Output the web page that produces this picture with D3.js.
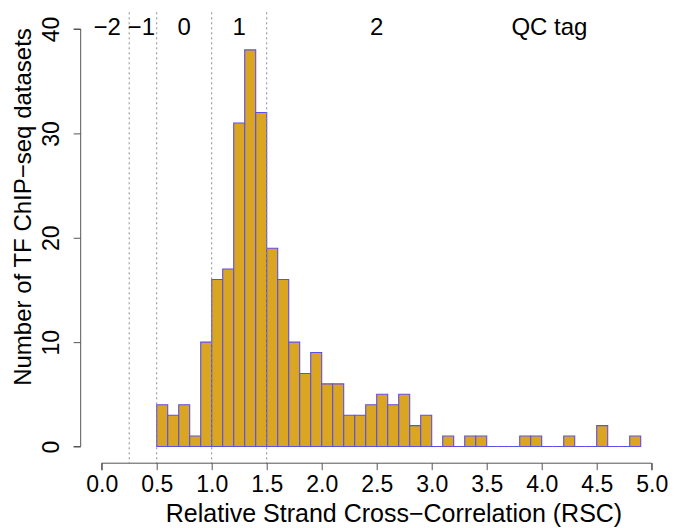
<!DOCTYPE html>
<html>
<head>
<meta charset="utf-8">
<script src="https://cdn.jsdelivr.net/npm/d3@7"></script>
<style>
  html, body { margin: 0; padding: 0; background: #fff; }
  text { font-family: "Liberation Sans", Arial, Helvetica, sans-serif; fill: #000; }
</style>
</head>
<body>
<div id="chart"></div>
<script>
// ---- Data -------------------------------------------------------------
const binStarts = [0.5, 0.6, 0.7, 0.8, 0.9, 1.0, 1.1, 1.2, 1.3, 1.4,
                   1.5, 1.6, 1.7, 1.8, 1.9, 2.0, 2.1, 2.2, 2.3, 2.4,
                   2.5, 2.6, 2.7, 2.8, 2.9, 3.0, 3.1, 3.2, 3.3, 3.4,
                   3.5, 3.6, 3.7, 3.8, 3.9, 4.0, 4.1, 4.2, 4.3, 4.4,
                   4.5, 4.6, 4.7, 4.8];
const counts    = [4, 3, 4, 1, 10, 16, 17, 31, 38, 32,
                   19, 16, 10, 7, 9, 6, 6, 3, 3, 4,
                   5, 4, 5, 2, 3, 0, 1, 0, 1, 1,
                   0, 0, 0, 1, 1, 0, 0, 1, 0, 0,
                   2, 0, 0, 1];
const binWidth = 0.1;

const thresholds = [0.25, 0.5, 1.0, 1.5];          // dotted cut lines
const qcTags     = ['\u22122', '\u22121', '0', '1', '2', 'QC tag'];
const qcTagAt    = [0.05, 0.36, 0.75, 1.25, 2.5, 4.07];

const xTicks = [0, 0.5, 1, 1.5, 2, 2.5, 3, 3.5, 4, 4.5, 5];
const yTicks = [0, 10, 20, 30, 40];

// ---- Dimensions -------------------------------------------------------
const width = 675, height = 528;
const plot = { left: 79.7, right: 673.7, top: 12.3, bottom: 463.2 };

const svg = d3.select('#chart')
  .append('svg')
  .attr('width', width)
  .attr('height', height);

svg.append('rect').attr('width', width).attr('height', height).attr('fill', '#fff');

// ---- Scales -----------------------------------------------------------
const xScale = d3.scaleLinear().domain([0, 5]).range([101.7, 651.7]);
const yScale = d3.scaleLinear().domain([0, 40]).range([446.5, 29]);

// ---- Bars (paths so empty bins still show their bottom edge) ---------
const bins = binStarts.map((x0, i) => ({ x0, x1: x0 + binWidth, n: counts[i] }));

svg.append('g')
  .selectAll('path')
  .data(bins)
  .join('path')
  .attr('d', d => `M${xScale(d.x0)},${yScale(0)}V${yScale(d.n)}H${xScale(d.x1)}V${yScale(0)}Z`)
  .attr('fill', '#DAA520')
  .attr('stroke', '#5b50e8')
  .attr('stroke-width', 1.1);

// ---- Threshold lines --------------------------------------------------
svg.append('g')
  .selectAll('line')
  .data(thresholds)
  .join('line')
  .attr('x1', d => xScale(d)).attr('x2', d => xScale(d))
  .attr('y1', plot.top).attr('y2', plot.bottom)
  .attr('stroke', '#8a8a8a')
  .attr('stroke-width', 1)
  .attr('stroke-dasharray', '2,3');

// QC tag labels along the top
svg.append('g')
  .selectAll('text')
  .data(qcTags)
  .join('text')
  .attr('x', (d, i) => xScale(qcTagAt[i]))
  .attr('y', 35)
  .attr('text-anchor', 'middle')
  .style('font-size', '24px')
  .text(d => d);

// ---- Axes -------------------------------------------------------------
const xAxis = d3.axisBottom(xScale)
  .tickValues(xTicks)
  .tickSize(7)
  .tickPadding(5)
  .tickFormat(d3.format('.1f'));

const xAxisGroup = svg.append('g')
  .attr('transform', `translate(0,${plot.bottom})`)
  .call(xAxis);
xAxisGroup.select('.domain').attr('d', `M${xScale(0)},7V0H${xScale(5)}V7`).attr('stroke', '#555');
xAxisGroup.selectAll('.tick line').attr('stroke', '#555');
xAxisGroup.selectAll('.tick text')
  .style('font-size', '23px')
  .attr('font-family', null);

svg.append('text')
  .attr('x', 394)
  .attr('y', 522)
  .attr('text-anchor', 'middle')
  .style('font-size', '25px')
  .text('Relative Strand Cross\u2212Correlation (RSC)');

const yAxis = d3.axisLeft(yScale)
  .tickValues(yTicks)
  .tickSize(7)
  .tickFormat(d3.format('d'));

const yAxisGroup = svg.append('g')
  .attr('transform', `translate(${plot.left + 1},0)`)
  .call(yAxis);
yAxisGroup.select('.domain').attr('d', `M-7,${yScale(0)}H0V${yScale(40)}H-7`).attr('stroke', '#555');
yAxisGroup.selectAll('.tick line').attr('stroke', '#555');
yAxisGroup.selectAll('.tick text')
  .attr('x', null).attr('dy', null)
  .attr('font-family', null)
  .style('font-size', '23px')
  .attr('text-anchor', 'middle')
  .attr('transform', 'translate(-22,0) rotate(-90)');

svg.append('text')
  .attr('transform', 'translate(31,207) rotate(-90)')
  .attr('text-anchor', 'middle')
  .style('font-size', '24px')
  .text('Number of TF ChIP\u2212seq datasets');
</script>
</body>
</html>
